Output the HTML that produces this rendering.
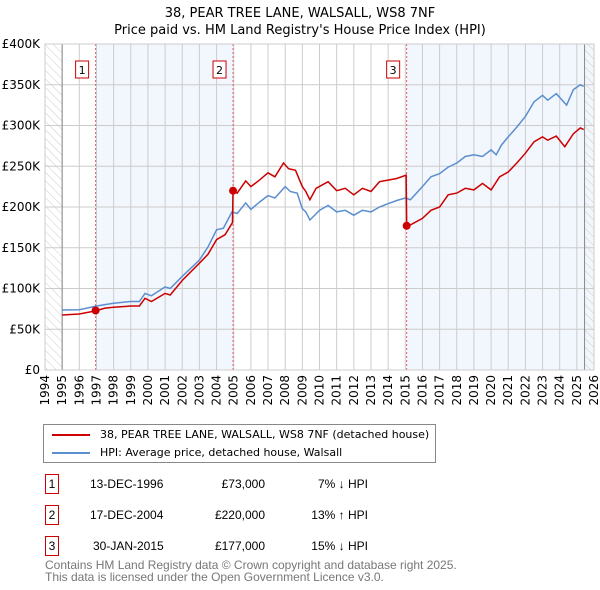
<!DOCTYPE html>
<html><head><meta charset="utf-8"><style>
body{margin:0;background:#fff;font-family:"Liberation Sans","DejaVu Sans",sans-serif;}
#wrap{position:relative;width:600px;height:590px;overflow:hidden;}
svg text{font-family:"DejaVu Sans","Liberation Sans",sans-serif;}
.lg{white-space:nowrap;font-family:"DejaVu Sans","Liberation Sans",sans-serif;font-size:11px;}
</style></head><body>
<div id="wrap">
<svg id="chart" width="600" height="590">
<defs><pattern id="hatch" width="6" height="6" patternUnits="userSpaceOnUse" patternTransform="rotate(-45)"><line x1="0" y1="0" x2="0" y2="6" stroke="#ccc" stroke-width="1"/></pattern></defs>
<text x="300" y="17" text-anchor="middle" font-size="13">38, PEAR TREE LANE, WALSALL, WS8 7NF</text>
<text x="300" y="34" text-anchor="middle" font-size="13">Price paid vs. HM Land Registry's House Price Index (HPI)</text>
<g id="plot"></g>
</svg>
<div style="position:absolute;left:43px;top:424px;width:391px;height:37px;border:1px solid #888;">
 <div style="position:absolute;left:8px;top:9px;width:38px;height:2px;background:#cc0000;"></div>
 <div class="lg" style="position:absolute;left:56px;top:3px;">38, PEAR TREE LANE, WALSALL, WS8 7NF (detached house)</div>
 <div style="position:absolute;left:8px;top:27px;width:38px;height:2px;background:#5b8fd0;"></div>
 <div class="lg" style="position:absolute;left:56px;top:21px;">HPI: Average price, detached house, Walsall</div>
</div>
<div style="font-size:12px;">
 <div style="position:absolute;left:45px;top:474px;width:12px;height:18px;border:1px solid #cc0000;text-align:center;line-height:18px;">1</div>
 <div style="position:absolute;left:90px;top:477px;">13-DEC-1996</div>
 <div style="position:absolute;left:200px;width:65px;top:477px;text-align:right;">£73,000</div>
 <div style="position:absolute;left:290px;width:78px;top:477px;text-align:right;">7% ↓ HPI</div>
 <div style="position:absolute;left:45px;top:505px;width:12px;height:18px;border:1px solid #cc0000;text-align:center;line-height:18px;">2</div>
 <div style="position:absolute;left:90px;top:508px;">17-DEC-2004</div>
 <div style="position:absolute;left:200px;width:65px;top:508px;text-align:right;">£220,000</div>
 <div style="position:absolute;left:290px;width:78px;top:508px;text-align:right;">13% ↑ HPI</div>
 <div style="position:absolute;left:45px;top:536px;width:12px;height:18px;border:1px solid #cc0000;text-align:center;line-height:18px;">3</div>
 <div style="position:absolute;left:93px;top:539px;">30-JAN-2015</div>
 <div style="position:absolute;left:200px;width:65px;top:539px;text-align:right;">£177,000</div>
 <div style="position:absolute;left:290px;width:78px;top:539px;text-align:right;">15% ↓ HPI</div>
</div>
<div style="position:absolute;left:45px;top:559px;font-size:12px;color:#777;line-height:12px;">Contains HM Land Registry data © Crown copyright and database right 2025.<br>This data is licensed under the Open Government Licence v3.0.</div>
</div>
<script>
const hpiYears=[1995,1996,1997,1998,1999,1999.5,1999.83,2000.2,2001,2001.3,2002,2003,2003.5,2004,2004.4,2004.9,2005.2,2005.7,2006,2006.5,2007,2007.4,2008,2008.3,2008.7,2009,2009.2,2009.44,2010,2010.5,2011,2011.5,2012,2012.5,2013,2013.5,2014,2014.5,2015,2015.3,2016,2016.5,2017,2017.5,2018,2018.5,2019,2019.5,2020,2020.3,2020.6,2021,2021.5,2022,2022.5,2023,2023.3,2023.8,2024.4,2024.8,2025.2,2025.4];
const hpiValues=[73600,74000,78500,82000,84000,84000,94000,91000,102000,100000,115000,135000,151000,172000,174000,194000,192000,205000,197000,206000,214000,211000,225000,219000,217000,198000,194000,184000,196000,202000,194000,196000,190000,196000,194000,200000,204000,208000,211000,209000,225000,237000,241000,249000,254000,262000,264000,262000,270000,264000,276000,286000,298000,311000,329000,337000,331000,339000,325000,344000,350000,348000];
const priceYears=[1995,1996,1996.95,1997.5,1998,1999,1999.5,1999.83,2000.2,2001,2001.3,2002,2003,2003.5,2004,2004.5,2004.93,2004.96,2005.2,2005.7,2006,2006.5,2007,2007.4,2007.9,2008.2,2008.6,2009,2009.2,2009.44,2009.8,2010.5,2011,2011.5,2012,2012.5,2013,2013.5,2014,2014.5,2015.05,2015.08,2015.3,2016,2016.5,2017,2017.5,2018,2018.5,2019,2019.5,2020,2020.5,2021,2021.5,2022,2022.5,2023,2023.3,2023.8,2024.3,2024.8,2025.2,2025.4];
const priceValues=[67500,68700,72500,76000,77000,78500,78500,88000,84000,94000,92000,110000,131000,142000,160000,166000,181000,220000,217000,232000,225000,233000,242000,237000,254000,247000,245000,225000,219000,209000,223000,231000,220000,223000,215000,223000,219000,231000,233000,235000,239000,177000,178000,186000,196000,200000,215000,217000,223000,221000,229000,221000,237000,243000,254000,266000,280000,286000,282000,287000,274000,290000,297000,295000];
const saleYears=[1996.95,2004.96,2015.08];
const saleValues=[73000,220000,177000];
const saleLabels=["1","2","3"];
const yTicks=[0,50000,100000,150000,200000,250000,300000,350000,400000];
const yTickLabels=["£0","£50K","£100K","£150K","£200K","£250K","£300K","£350K","£400K"];
const xTicks=[1994,1995,1996,1997,1998,1999,2000,2001,2002,2003,2004,2005,2006,2007,2008,2009,2010,2011,2012,2013,2014,2015,2016,2017,2018,2019,2020,2021,2022,2023,2024,2025,2026];

const X0=45,X1=594,Y0=370,Y1=44;
const xs=y=>X0+(y-1994)/32*(X1-X0);
const ys=v=>Y0-v/400000*(Y0-Y1);
const NS="http://www.w3.org/2000/svg";
const g=document.getElementById('plot');
function mk(tag,at){const e=document.createElementNS(NS,tag);for(const k in at)e.setAttribute(k,at[k]);g.appendChild(e);return e;}
let e;
e=mk('rect',{x:xs(saleYears[0]),y:Y1,width:xs(saleYears[1])-xs(saleYears[0]),height:Y0-Y1,fill:'#f2f6fd'});


e=mk('rect',{x:xs(saleYears[2]),y:Y1,width:X1-xs(saleYears[2]),height:Y0-Y1,fill:'#f2f6fd'});


e=mk('rect',{x:X0,y:Y1,width:xs(1995)-X0,height:Y0-Y1,fill:'url(#hatch)'});


e=mk('rect',{x:xs(2025.45),y:Y1,width:X1-xs(2025.45),height:Y0-Y1,fill:'url(#hatch)'});


yTicks.forEach((v,i)=>{
 e=mk('line',{x1:X0,x2:X1,y1:ys(v),y2:ys(v),stroke:'#ccc','stroke-width':1});
 
 
 e=mk('text',{x:40,y:ys(v)+4,'text-anchor':'end','font-size':12});
 e.textContent=yTickLabels[i];
 
 
});
xTicks.forEach(yr=>{
 e=mk('line',{x1:xs(yr),x2:xs(yr),y1:Y1,y2:Y0,stroke:'#ccc','stroke-width':1});
 
 
 e=mk('text',{x:0,y:0,'text-anchor':'end','font-size':12,transform:`translate(${xs(yr)+4},375) rotate(-90)`});
 e.textContent=yr;
 
 
});
e=mk('line',{x1:xs(1995),x2:xs(1995),y1:Y1,y2:Y0,stroke:'#888'});


e=mk('line',{x1:xs(2025.45),x2:xs(2025.45),y1:Y1,y2:Y0,stroke:'#888'});


saleYears.forEach((yr,i)=>{
 e=mk('line',{x1:xs(yr),x2:xs(yr),y1:Y1,y2:Y0,stroke:'#e06060','stroke-dasharray':'2,2'});
 
 
 e=mk('rect',{x:xs(yr)-20,y:61,width:13,height:17,fill:'#fff',stroke:'#cc0000'});
 
 
 e=mk('text',{x:xs(yr)-13.5,y:74,'text-anchor':'middle','font-size':11});
 e.textContent=saleLabels[i];
 
 
});
const pts=(a,b)=>a.map((yr,i)=>xs(yr).toFixed(1)+','+ys(b[i]).toFixed(1)).join(' ');
e=mk('polyline',{points:pts(hpiYears,hpiValues),fill:'none',stroke:'#5b8fd0','stroke-width':1.5});


e=mk('polyline',{points:pts(priceYears,priceValues),fill:'none',stroke:'#cc0000','stroke-width':1.5});


saleYears.forEach((yr,i)=>{
 e=mk('circle',{cx:xs(yr),cy:ys(saleValues[i]),r:4,fill:'#cc0000'});
 
 
});
e=mk('rect',{x:X0,y:Y1,width:X1-X0,height:Y0-Y1,fill:'none',stroke:'#ccc'});


</script>
</body></html>
